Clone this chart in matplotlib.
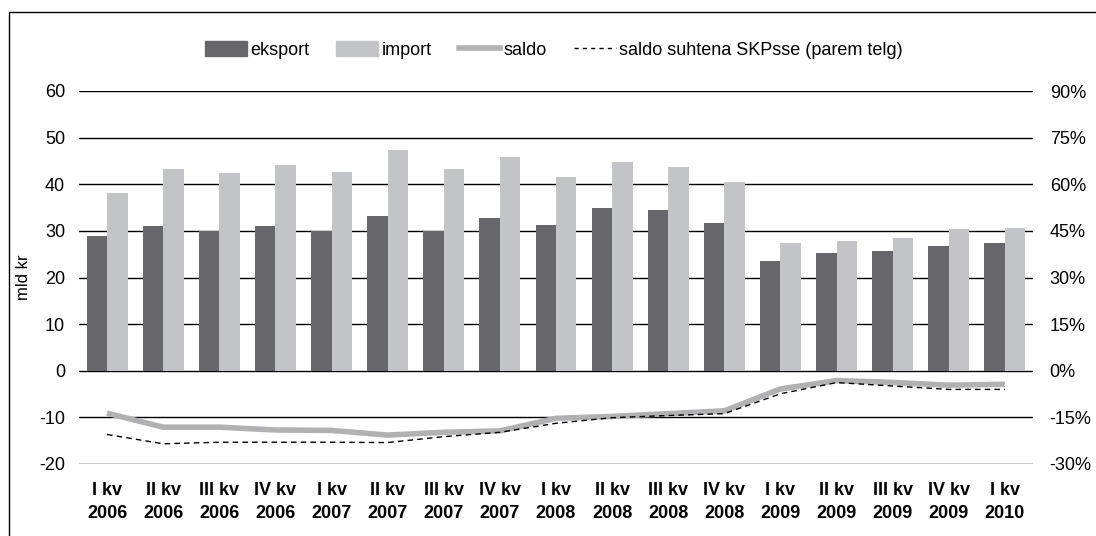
import numpy as np
import matplotlib.pyplot as plt
from matplotlib.patches import Rectangle, Patch
from matplotlib.lines import Line2D
from matplotlib.ticker import FuncFormatter

plt.rcParams['font.family'] = ['Liberation Sans', 'DejaVu Sans']
plt.rcParams['axes.unicode_minus'] = False

quarters = ["I kv\n2006", "II kv\n2006", "III kv\n2006", "IV kv\n2006",
            "I kv\n2007", "II kv\n2007", "III kv\n2007", "IV kv\n2007",
            "I kv\n2008", "II kv\n2008", "III kv\n2008", "IV kv\n2008",
            "I kv\n2009", "II kv\n2009", "III kv\n2009", "IV kv\n2009",
            "I kv\n2010"]
eksport = [28.9, 31.0, 30.0, 31.0, 30.0, 33.2, 30.0, 32.8, 31.3,
           34.9, 34.4, 31.7, 23.5, 25.2, 25.6, 26.7, 27.3]
import_ = [38.1, 43.3, 42.4, 44.1, 42.6, 47.3, 43.3, 45.8, 41.6,
           44.8, 43.7, 40.5, 27.4, 27.8, 28.4, 30.4, 30.6]
saldo = [-9.1, -12.1, -12.1, -12.7, -12.8, -13.8, -13.2, -12.9, -10.2,
         -9.8, -9.2, -8.6, -3.9, -2.1, -2.5, -3.1, -2.9]
saldo_skp = [-20.5, -23.5, -23.0, -23.0, -23.0, -23.1, -21.2, -19.8, -16.9,
             -15.1, -14.4, -13.8, -7.4, -3.8, -4.9, -6.0, -6.0]

c_eks = "#67666b"
c_imp = "#c3c4c7"
c_saldo = "#b1b1b3"
fs = 13

fig = plt.figure(figsize=(10.96, 5.36), dpi=100)
ax = fig.add_axes([79 / 1096, 1 - 464 / 536, 954 / 1096, 373 / 536])

x = np.arange(len(quarters))
w = 0.365
ax.bar(x - w / 2, eksport, w, color=c_eks, zorder=2)
ax.bar(x + w / 2, import_, w, color=c_imp, zorder=2)
ax.plot(x, saldo, color=c_saldo, lw=4, zorder=3, solid_capstyle='butt')

ax.set_xlim(-0.5, len(quarters) - 0.5)
ax.set_ylim(-20, 60)
ax.set_yticks(range(-20, 61, 10))
ax.grid(axis='y', color='black', lw=1, zorder=1)
ax.set_axisbelow(True)
ax.set_xticks(x)
ax.set_xticklabels(quarters, fontweight='bold', fontsize=fs, linespacing=1.45)
ax.tick_params(axis='both', length=0, labelsize=fs)
ax.tick_params(axis='x', pad=13)
ax.tick_params(axis='y', pad=10)
for s in ax.spines.values():
    s.set_visible(False)
ax.set_ylabel("mld kr", fontsize=12, labelpad=6)

ax2 = ax.twinx()
ax2.plot(x, saldo_skp, color='black', lw=1, ls=(0, (4, 3)), zorder=4)
ax2.set_ylim(-30, 90)
ax2.set_yticks(range(-30, 91, 15))
ax2.yaxis.set_major_formatter(FuncFormatter(lambda v, p: f"{v:.0f}%"))
ax2.tick_params(axis='y', length=0, labelsize=fs, pad=12)
for s in ax2.spines.values():
    s.set_visible(False)

handles = [Patch(color=c_eks), Patch(color=c_imp),
           Line2D([], [], color=c_saldo, lw=4),
           Line2D([], [], color='black', lw=1, ls=(0, (3, 3)))]
labels = ["eksport", "import", "saldo", "saldo suhtena SKPsse (parem telg)"]
fig.legend(handles, labels, loc='center', bbox_to_anchor=(554 / 1096, 1 - 50 / 536),
           ncol=4, frameon=False, fontsize=fs, handlelength=2.3, handletextpad=0.2,
           columnspacing=1.5, handleheight=0.9)

fig.add_artist(Rectangle((9 / 1096, -0.05), 1.1, 1 - 12 / 536 + 0.05,
                         transform=fig.transFigure, fill=False,
                         edgecolor='black', lw=1))

fig.savefig("out.png", dpi=100)
